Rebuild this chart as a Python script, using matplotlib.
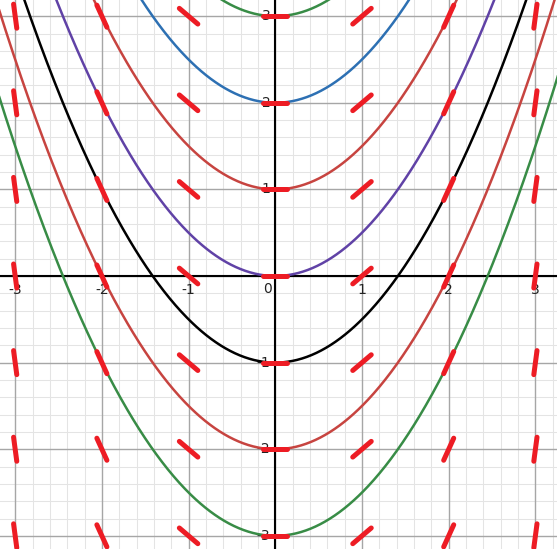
import numpy as np
import matplotlib
matplotlib.use("Agg")
import matplotlib.pyplot as plt

# Family of solution curves y = x^2/2 + C
offsets = [3, 2, 1, 0, -1, -2, -3]
curve_colors = ["#388c46", "#2d70b3", "#c74440", "#6042a6", "#000000", "#c74440", "#388c46"]

# Slope field sample points and slopes read per column
grid_x = [-3, -2, -1, 0, 1, 2, 3]
grid_y = [-3, -2, -1, 0, 1, 2, 3]
col_slopes = [-7.5, -2.2, -0.85, 0.0, 0.85, 2.2, 7.5]

tick_vals = [-3, -2, -1, 0, 1, 2, 3]

xmin, xmax = -3.175, 3.249
ymin, ymax = -3.152, 3.187

fig = plt.figure(figsize=(5.57, 5.49), dpi=100)
ax = fig.add_axes([0, 0, 1, 1])
ax.set_xlim(xmin, xmax)
ax.set_ylim(ymin, ymax)
ax.axis("off")

# grid
for v in np.arange(-4, 4.01, 0.2):
    v = round(v, 1)
    major = abs(v - round(v)) < 1e-6
    col = "#a6a6a6" if major else "#e4e4e4"
    lw = 1.0 if major else 0.75
    ax.axvline(v, color=col, lw=lw, zorder=0 if not major else 0.5)
    ax.axhline(v, color=col, lw=lw, zorder=0 if not major else 0.5)
ax.axhline(0, color="black", lw=1.5, zorder=1)
ax.axvline(0, color="black", lw=1.5, zorder=1)

# tick labels
px = (xmax - xmin) / 557
py = (ymax - ymin) / 549
for t in tick_vals:
    if t == 0:
        ax.text(-8 * px, -13 * py, "0", ha="center", va="center", fontsize=10, color="#222222", zorder=2)
        continue
    ax.text(t, -14 * py, f"{t}", ha="center", va="center",
            fontsize=10, color="#222222", zorder=2)
    ax.text(-5 * px, t, f"{t}", ha="right", va="center",
            fontsize=10, color="#222222", zorder=2)

# curves
xs = np.linspace(xmin - 0.1, xmax + 0.1, 600)
for c, colr in zip(offsets, curve_colors):
    ax.plot(xs, xs ** 2 / 2 + c, color=colr, lw=1.8, zorder=3, solid_capstyle="round")

# slope segments
half = 0.14
for gx, m in zip(grid_x, col_slopes):
    d = np.array([1.0, m]) / np.hypot(1.0, m)
    for gy in grid_y:
        ax.plot([gx - half * d[0], gx + half * d[0]], [gy - half * d[1], gy + half * d[1]],
                color="#ed1c24", lw=3.6, solid_capstyle="round", zorder=4)

fig.savefig("out.png", dpi=100)
